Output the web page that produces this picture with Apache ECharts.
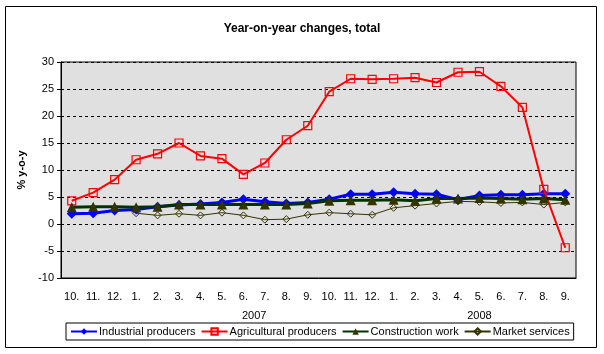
<!DOCTYPE html>
<html>
<head>
<meta charset="utf-8">
<script src="https://cdn.jsdelivr.net/npm/echarts@6/dist/echarts.min.js"></script>
<style>
  html, body { margin: 0; padding: 0; background: #fff; }
  #main { width: 604px; height: 354px; }
</style>
</head>
<body>
<div id="main"></div>
<script>
// months Oct 2006 - Sep 2008
var months = ['10.', '11.', '12.', '1.', '2.', '3.', '4.', '5.', '6.', '7.', '8.', '9.',
              '10.', '11.', '12.', '1.', '2.', '3.', '4.', '5.', '6.', '7.', '8.', '9.'];
var yearLabels = { '8.5': '2007', '19': '2008' };

var industrial = [1.9, 2.0, 2.5, 2.7, 3.2, 3.5, 3.7, 4.0, 4.6, 4.1, 3.8, 4.0,
                  4.6, 5.5, 5.5, 5.9, 5.6, 5.5, 4.5, 5.3, 5.4, 5.4, 5.6, 5.6];
var agricultural = [4.3, 5.8, 8.2, 11.9, 13.0, 15.0, 12.6, 12.1, 9.2, 11.3, 15.6, 18.2,
                    24.5, 26.9, 26.8, 26.9, 27.1, 26.2, 28.1, 28.2, 25.5, 21.6, 6.4, -4.4];
var construction = [3.1, 3.2, 3.2, 3.1, 3.2, 3.6, 3.6, 3.6, 3.6, 3.6, 3.6, 3.8,
                    4.3, 4.4, 4.4, 4.5, 4.3, 4.7, 4.7, 4.8, 4.7, 4.6, 4.7, 4.5];
var services = [null, null, null, 2.0, 1.6, 1.9, 1.6, 2.1, 1.6, 0.8, 0.9, 1.7,
                2.1, 1.9, 1.7, 3.0, 3.4, 3.8, 4.2, 4.1, 3.9, 4.0, 3.6, 4.0];

var myChart = echarts.init(document.getElementById('main'));
var font = 'Liberation Sans, Arial, sans-serif';

var option = {
  animation: false,
  backgroundColor: '#fff',
  textStyle: { fontFamily: font },
  title: {
    text: 'Year-on-year changes, total',
    left: 'center',
    top: 18,
    textStyle: { fontSize: 12, fontWeight: 'bold', color: '#000', fontFamily: font }
  },
  graphic: [{
    type: 'rect',
    shape: { x: 5.5, y: 6.5, width: 591, height: 341 },
    style: { fill: 'none', stroke: '#000', lineWidth: 1 },
    z: -1
  }],
  legend: {
    left: 66,
    top: 323,
    orient: 'horizontal',
    borderColor: '#000',
    borderWidth: 1,
    padding: [3, 4, 3, 4],
    itemGap: 5,
    itemWidth: 26,
    itemHeight: 8,
    textStyle: { fontSize: 11, color: '#000', fontFamily: font, padding: [0, 0, 0, -3] },
    data: ['Industrial producers', 'Agricultural producers', 'Construction work', 'Market services']
  },
  grid: {
    left: 61, right: 28, top: 62, bottom: 76,
    show: true,
    backgroundColor: '#e0e0e0',
    borderColor: '#000',
    borderWidth: 1
  },
  xAxis: [{
    type: 'category',
    data: months,
    boundaryGap: true,
    axisLine: { onZero: false, lineStyle: { color: '#000' } },
    axisTick: { show: false },
    axisLabel: { color: '#000', fontSize: 11, margin: 13, interval: 0, fontFamily: font }
  }, {
    type: 'value',
    position: 'bottom',
    offset: 24,
    min: -0.5,
    max: 23.5,
    interval: 0.5,
    axisLine: { show: false, onZero: false },
    axisTick: { show: false },
    splitLine: { show: false },
    axisLabel: {
      color: '#000', fontSize: 11, fontFamily: font, showMinLabel: true, showMaxLabel: true,
      formatter: function (v) { return yearLabels[String(v)] || ''; }
    }
  }],
  yAxis: {
    type: 'value',
    min: -10,
    max: 30,
    interval: 5,
    name: '% y-o-y',
    nameLocation: 'middle',
    nameGap: 28,
    nameTextStyle: { fontSize: 11, fontWeight: 'bold', color: '#000', fontFamily: font },
    axisLine: { show: true, onZero: false, lineStyle: { color: '#000' } },
    axisTick: { show: true, length: 4, lineStyle: { color: '#000' } },
    axisLabel: { color: '#000', fontSize: 11, margin: 7, fontFamily: font },
    splitLine: { show: true, lineStyle: { color: '#000', type: [3, 3], width: 1 } }
  },
  series: [{
    name: 'Industrial producers',
    type: 'line',
    data: industrial,
    symbol: 'diamond',
    symbolSize: 10,
    lineStyle: { color: '#0000ff', width: 3 },
    itemStyle: { color: '#0000ff' },
    z: 2
  }, {
    name: 'Agricultural producers',
    type: 'line',
    data: agricultural,
    symbol: 'rect',
    symbolSize: 8,
    lineStyle: { color: '#ff0000', width: 2 },
    itemStyle: { color: 'rgba(0,0,0,0)', borderColor: '#ff0000', borderWidth: 1.2 },
    z: 3
  }, {
    name: 'Construction work',
    type: 'line',
    data: construction,
    symbol: 'triangle',
    symbolSize: 10,
    lineStyle: { color: '#003300', width: 3 },
    itemStyle: { color: '#333300' },
    z: 4
  }, {
    name: 'Market services',
    type: 'line',
    data: services,
    symbol: 'diamond',
    symbolSize: 7,
    lineStyle: { color: '#333300', width: 1 },
    itemStyle: { color: 'rgba(0,0,0,0)', borderColor: '#333300', borderWidth: 1 },
    z: 5
  }]
};
myChart.setOption(option);
</script>
</body>
</html>
